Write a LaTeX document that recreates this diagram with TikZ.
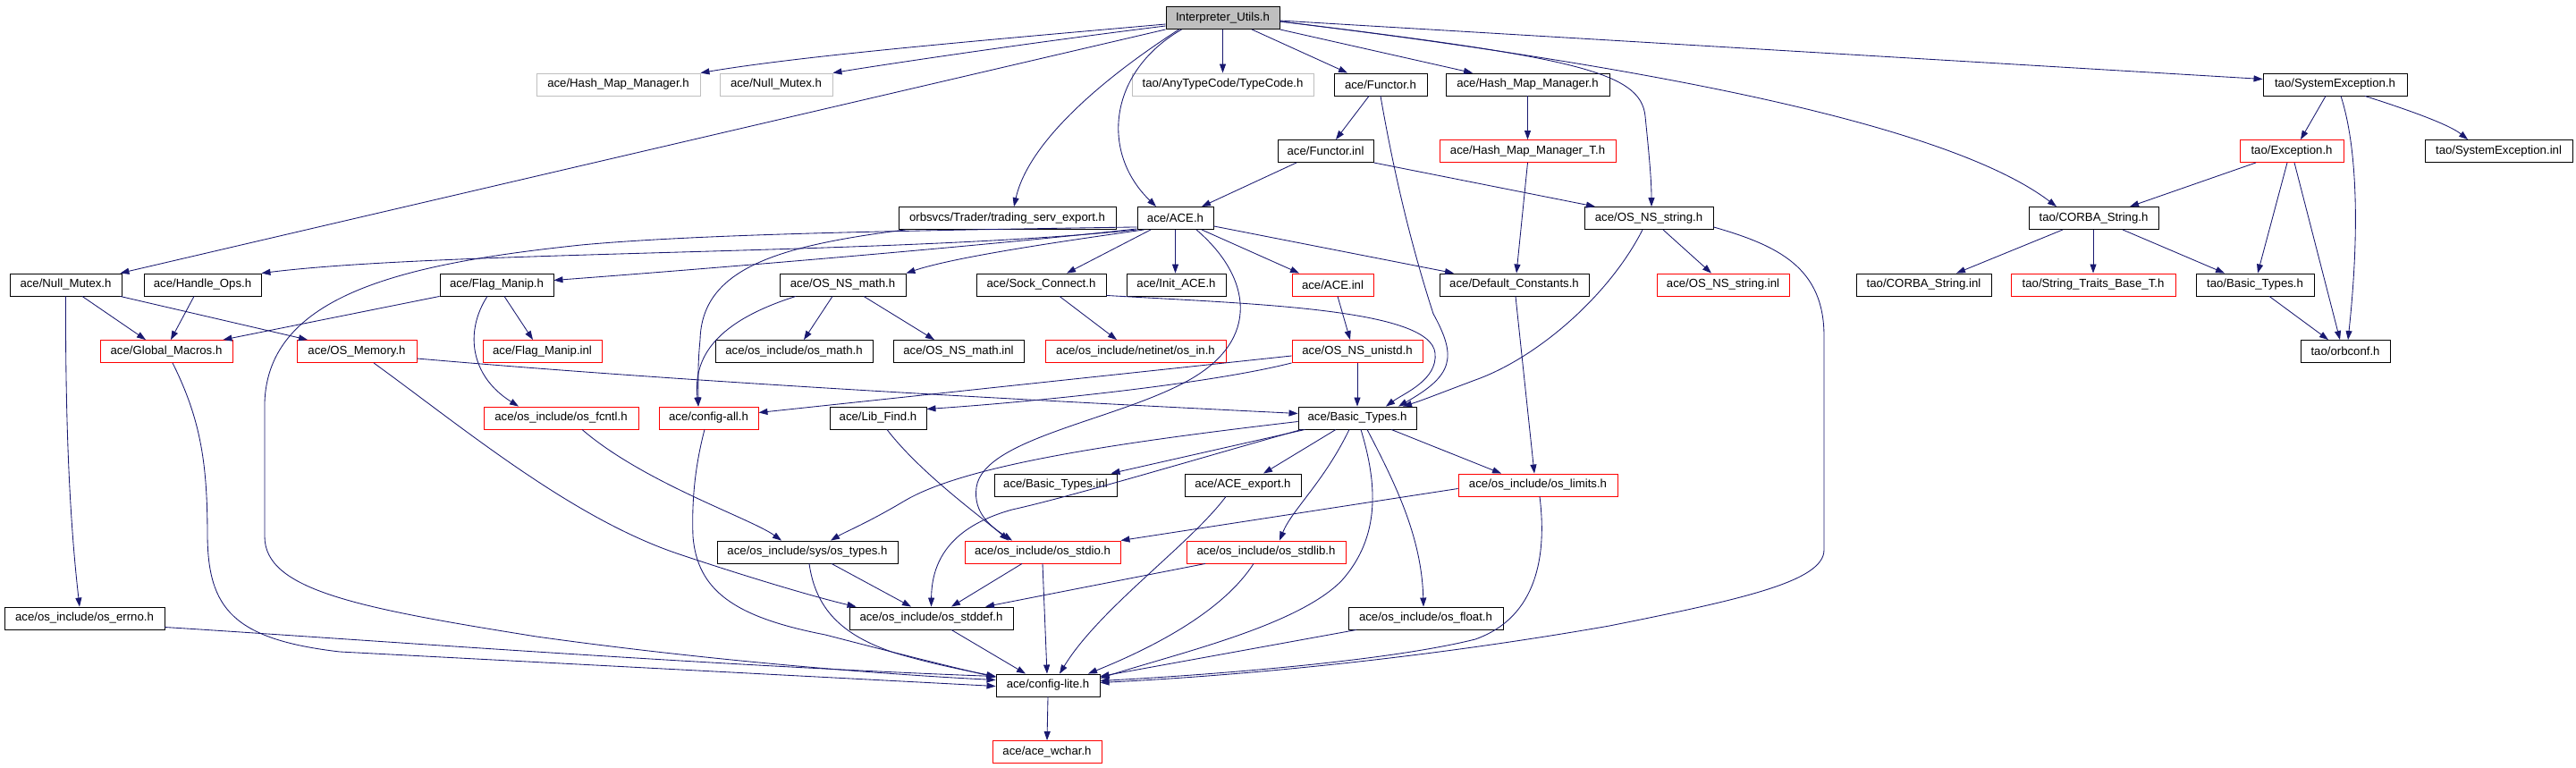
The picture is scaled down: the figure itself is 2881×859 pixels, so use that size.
\documentclass[tikz,border=0pt]{standalone}
\usepackage{fontspec}
\setmainfont{Liberation Sans}
\usetikzlibrary{arrows.meta,calc}
\definecolor{edgecol}{HTML}{191970}
\definecolor{grayfill}{HTML}{BFBFBF}
\newcommand\gnode[6]{\node[#1,minimum width={#4pt-#3pt}] (#2) at ({(#3+#4)/2},#5) {#6};}
\tikzset{
  box/.style={draw=black, line width=0.9pt, rectangle, minimum height=25pt, inner sep=0pt,
    font=\fontsize{13.2}{15}\selectfont, text=black},
  gbox/.style={box, draw=grayfill},
  rbox/.style={box, draw=red},
  root/.style={box, fill=grayfill},
  dep/.style={draw=edgecol, line width=0.85pt, -{Triangle[length=10pt,width=7pt]}}
}
\begin{document}
\begin{tikzpicture}[x=1pt,y=-1pt]
\fill[white] (0,0) rectangle (2881,859);
\useasboundingbox (0,0) rectangle (2881,859);
% row 0
\gnode{root}{iu}{1304}{1431}{20}{Interpreter\_Utils.h}
% row 1
\gnode{gbox}{hmmg}{600}{783}{94.5}{ace/Hash\_Map\_Manager.h}
\gnode{gbox}{nmg}{805}{931}{94.5}{ace/Null\_Mutex.h}
\gnode{gbox}{tc}{1266}{1469}{94.5}{tao/AnyTypeCode/TypeCode.h}
\gnode{box}{fh}{1492}{1596}{94.5}{ace/Functor.h}
\gnode{box}{hmm}{1617}{1800}{94.5}{ace/Hash\_Map\_Manager.h}
\gnode{box}{se}{2531}{2692}{94.5}{tao/SystemException.h}
% row 2
\gnode{box}{finl}{1429}{1536}{169}{ace/Functor.inl}
\gnode{rbox}{hmmt}{1610}{1807}{169}{ace/Hash\_Map\_Manager\_T.h}
\gnode{rbox}{exc}{2505}{2621}{169}{tao/Exception.h}
\gnode{box}{seinl}{2712}{2877}{169}{tao/SystemException.inl}
% row 3
\gnode{box}{tse}{1005}{1248}{244}{orbsvcs/Trader/trading\_serv\_export.h}
\gnode{box}{ace}{1272}{1357}{244}{ace/ACE.h}
\gnode{box}{nss}{1772}{1916}{244}{ace/OS\_NS\_string.h}
\gnode{box}{cs}{2269}{2414}{244}{tao/CORBA\_String.h}
% row 4
\gnode{box}{nm}{11}{136}{318.5}{ace/Null\_Mutex.h}
\gnode{box}{ho}{161}{292}{318.5}{ace/Handle\_Ops.h}
\gnode{box}{fm}{492}{619}{318.5}{ace/Flag\_Manip.h}
\gnode{box}{nsm}{872}{1013}{318.5}{ace/OS\_NS\_math.h}
\gnode{box}{sc}{1092}{1237}{318.5}{ace/Sock\_Connect.h}
\gnode{box}{ia}{1260}{1371}{318.5}{ace/Init\_ACE.h}
\gnode{rbox}{aceinl}{1445}{1536}{318.5}{ace/ACE.inl}
\gnode{box}{dc}{1610}{1777}{318.5}{ace/Default\_Constants.h}
\gnode{rbox}{nssinl}{1853}{2001}{318.5}{ace/OS\_NS\_string.inl}
\gnode{box}{csinl}{2076}{2227}{318.5}{tao/CORBA\_String.inl}
\gnode{rbox}{stb}{2249}{2433}{318.5}{tao/String\_Traits\_Base\_T.h}
\gnode{box}{tbt}{2456}{2588}{318.5}{tao/Basic\_Types.h}
% row 5
\gnode{rbox}{gm}{112}{260}{393}{ace/Global\_Macros.h}
\gnode{rbox}{om}{332}{466}{393}{ace/OS\_Memory.h}
\gnode{rbox}{fminl}{540}{673}{393}{ace/Flag\_Manip.inl}
\gnode{box}{osm}{800}{976}{393}{ace/os\_include/os\_math.h}
\gnode{box}{nsminl}{999}{1145}{393}{ace/OS\_NS\_math.inl}
\gnode{rbox}{osin}{1169}{1371}{393}{ace/os\_include/netinet/os\_in.h}
\gnode{rbox}{nsu}{1445}{1591}{393}{ace/OS\_NS\_unistd.h}
\gnode{box}{orb}{2573}{2673}{393}{tao/orbconf.h}
% row 6
\gnode{rbox}{fcntl}{541}{714}{467.5}{ace/os\_include/os\_fcntl.h}
\gnode{rbox}{ca}{737}{848}{467.5}{ace/config-all.h}
\gnode{box}{lf}{928}{1036}{467.5}{ace/Lib\_Find.h}
\gnode{box}{bt}{1452}{1584}{467.5}{ace/Basic\_Types.h}
% row 7
\gnode{box}{btinl}{1112}{1249}{542.5}{ace/Basic\_Types.inl}
\gnode{box}{ae}{1325}{1455}{542.5}{ace/ACE\_export.h}
\gnode{rbox}{lim}{1631}{1809}{542.5}{ace/os\_include/os\_limits.h}
% row 8
\gnode{box}{ost}{802}{1004}{617.5}{ace/os\_include/sys/os\_types.h}
\gnode{rbox}{stdio}{1079}{1253}{617.5}{ace/os\_include/os\_stdio.h}
\gnode{rbox}{stdlib}{1327}{1505}{617.5}{ace/os\_include/os\_stdlib.h}
% row 9
\gnode{box}{errno}{5}{184}{691.5}{ace/os\_include/os\_errno.h}
\gnode{box}{stddef}{950}{1133}{691.5}{ace/os\_include/os\_stddef.h}
\gnode{box}{flt}{1508}{1681}{691.5}{ace/os\_include/os\_float.h}
% row 10, 11
\gnode{box}{cl}{1114}{1230}{766.5}{ace/config-lite.h}
\gnode{rbox}{wc}{1110}{1232}{841}{ace/ace\_wchar.h}

% ---- edges from Interpreter_Utils.h
\draw[dep] ($(iu.west)+(0,7)$) .. controls (1100,45) and (900,62) .. (hmmg.north east);
\draw[dep] ($(iu.west)+(0,9)$) .. controls (1150,48) and (990,72) .. (nmg.north east);
\draw[dep] (iu.south west) -- ($(nm.north east)+(-2,0)$);
\draw[dep] ($(iu.south west)+(15,0)$) .. controls (1230,90) and (1150,160) .. ($(tse.north)+(7.5,0)$);
\draw[dep] ($(iu.south west)+(18,0)$) .. controls (1240,80) and (1230,170) .. ($(ace.north)+(-21.5,0)$);
\draw[dep] (iu.south) -- (tc.north);
\draw[dep] ($(iu.south)+(32.5,0)$) -- ($(fh.north)+(-37,0)$);
\draw[dep] (iu.south east) -- ($(hmm.north)+(-61.5,0)$);
\draw[dep] ($(iu.east)+(0,4)$) .. controls (1760,64) and (1835,80) .. (1840,130) .. controls (1844,170) and (1847,200) .. ($(nss.north)+(3,0)$);
\draw[dep] ($(iu.east)+(0,4)$) .. controls (1850,75) and (2180,140) .. ($(cs.north)+(-41.5,0)$);
\draw[dep] ($(iu.east)+(0,3)$) -- ($(se.west)+(0,-6)$);

% ---- Functor / Hash map
\draw[dep] ($(fh.south)+(-13,0)$) -- ($(finl.north)+(11.5,0)$);
\draw[dep] (fh.south) .. controls (1560,200) and (1580,280) .. (1603,351) .. controls (1630,400) and (1625,420) .. ($(bt.north)+(46,0)$);
\draw[dep] (hmm.south) -- (hmmt.north);
\draw[dep] (hmmt.south) -- ($(dc.north)+(2.5,0)$);
\draw[dep] ($(finl.south)+(-32.5,0)$) -- ($(ace.north)+(29.5,0)$);
\draw[dep] (finl.south east) -- ($(nss.north)+(-60,0)$);

% ---- tao side
\draw[dep] ($(se.south)+(-10.5,0)$) -- ($(exc.north)+(10,0)$);
\draw[dep] ($(se.south)+(6.5,0)$) .. controls (2635,160) and (2640,250) .. ($(orb.north)+(3,0)$);
\draw[dep] ($(se.south)+(33.5,0)$) .. controls (2700,125) and (2740,140) .. ($(seinl.north)+(-34.5,0)$);
\draw[dep] ($(exc.south)+(-40,0)$) -- ($(cs.north)+(40.5,0)$);
\draw[dep] ($(exc.south)+(-5,0)$) -- ($(tbt.north)+(3,0)$);
\draw[dep] ($(exc.south)+(3,0)$) -- ($(orb.north)+(-6,0)$);
\draw[dep] ($(cs.south)+(-34.5,0)$) -- ($(csinl.north)+(36.5,0)$);
\draw[dep] ($(cs.south)+(-0.5,0)$) -- (stb.north);
\draw[dep] ($(cs.south)+(32.5,0)$) -- ($(tbt.north)+(-34,0)$);
\draw[dep] ($(tbt.south)+(16,0)$) -- ($(orb.north)+(-19,0)$);

% ---- trading_serv_export
\draw[dep] ($(tse.south west)+(8,0)$) .. controls (870,275) and (785,300) .. (783,380) .. controls (780,410) and (781,430) .. ($(ca.north)+(-11.5,0)$);

% ---- ACE.h
\draw[dep] (ace.south west) .. controls (1000,285) and (500,280) .. (ho.north east);
\draw[dep] ($(ace.south west)+(0,-1)$) .. controls (1100,275) and (800,300) .. ($(fm.east)+(0,-5)$);
\draw[dep] ($(ace.south west)+(0,-3)$) .. controls (1000,258) and (780,262) .. (650,274) .. controls (450,295) and (300,330) .. (296,450) -- (296,600) .. controls (296,660) and (400,680) .. (600,712) .. controls (800,740) and (1000,755) .. ($(cl.west)+(0,-6)$);
\draw[dep] ($(ace.south west)+(8,0)$) .. controls (1150,275) and (1060,290) .. (nsm.north east);
\draw[dep] ($(ace.south)+(-27.5,0)$) -- ($(sc.north)+(28.5,0)$);
\draw[dep] (ace.south) -- ($(ia.north)+(-1,0)$);
\draw[dep] ($(ace.south)+(29.5,0)$) -- ($(aceinl.north)+(-37.5,0)$);
\draw[dep] ($(ace.south east)+(0,-4)$) -- ($(dc.north)+(-67.5,0)$);
\draw[dep] ($(ace.south)+(23.5,0)$) .. controls (1400,310) and (1410,380) .. (1330,425) .. controls (1250,470) and (1100,490) .. (1092,545) .. controls (1088,575) and (1110,590) .. ($(stdio.north)+(-34,0)$);

% ---- row 4 sources
\draw[dep] ($(sc.south)+(20.5,0)$) -- ($(osin.north)+(-21,0)$);
\draw[dep] ($(sc.south east)+(0,-1)$) .. controls (1400,340) and (1600,345) .. (1605,395) .. controls (1608,425) and (1570,440) .. ($(bt.north)+(32,0)$);
\draw[dep] ($(aceinl.south)+(5.5,0)$) -- ($(nsu.north)+(-8,0)$);
\draw[dep] (nsu.south) -- (bt.north);
\draw[dep] ($(nsu.west)+(0,5)$) -- ($(ca.east)+(0,-6)$);
\draw[dep] (nsu.south west) .. controls (1350,430) and (1150,450) .. ($(lf.east)+(0,-10)$);
\draw[dep] ($(nss.south)+(16,0)$) -- ($(nssinl.north)+(-13,0)$);
\draw[dep] ($(nss.south)+(-7,0)$) .. controls (1800,330) and (1720,400) .. (1650,425) .. controls (1610,440) and (1590,448) .. ($(bt.north)+(51,0)$);
\draw[dep] ($(nss.south east)+(0,-3)$) .. controls (1990,275) and (2040,300) .. (2040,376) -- (2040,615) .. controls (2040,650) and (1950,670) .. (1800,700) .. controls (1600,735) and (1400,755) .. ($(cl.east)+(0,-3)$);
\draw[dep] ($(dc.south)+(1.5,0)$) -- ($(lim.north)+(-4,0)$);

% ---- Basic_Types.h
\draw[dep] ($(bt.south west)+(8,0)$) -- ($(btinl.north)+(62,0)$);
\draw[dep] ($(bt.south)+(-24,0)$) -- ($(ae.north)+(23,0)$);
\draw[dep] ($(bt.south)+(38,0)$) -- ($(lim.north)+(-41,0)$);
\draw[dep] ($(bt.south)+(-9,0)$) .. controls (1480,540) and (1445,570) .. ($(stdlib.north)+(15,0)$);
\draw[dep] ($(bt.south)+(11,0)$) .. controls (1560,540) and (1590,600) .. ($(flt.north)+(-2.5,0)$);
\draw[dep] ($(bt.south)+(4,0)$) .. controls (1540,540) and (1545,600) .. (1500,650) .. controls (1450,700) and (1320,730) .. ($(cl.east)+(0,-8)$);
\draw[dep] ($(bt.west)+(0,4)$) .. controls (1250,495) and (1080,520) .. (1012,560) .. controls (970,585) and (945,595) .. ($(ost.north)+(26,0)$);
\draw[dep] ($(bt.south west)+(4,0)$) .. controls (1350,510) and (1200,555) .. (1132,570) .. controls (1060,590) and (1042,630) .. (stddef.north);

% ---- os_limits, ACE_export
\draw[dep] ($(lim.west)+(0,4)$) -- (stdio.north east);
\draw[dep] ($(lim.south)+(2,0)$) .. controls (1730,620) and (1720,690) .. (1650,715) .. controls (1550,740) and (1350,755) .. ($(cl.east)+(0,-5)$);
\draw[dep] ($(ae.south)+(-19,0)$) .. controls (1330,610) and (1230,680) .. ($(cl.north)+(13,0)$);

% ---- left part
\draw[dep] ($(om.east)+(0,8)$) .. controls (800,430) and (1200,450) .. ($(bt.west)+(0,-5)$);
\draw[dep] ($(om.south)+(19,0)$) .. controls (520,480) and (640,580) .. (760,620) .. controls (850,650) and (920,670) .. ($(stddef.north west)+(8,0)$);
\draw[dep] ($(nm.south)+(18.5,0)$) -- ($(gm.north)+(-23,0)$);
\draw[dep] ($(nm.south east)+(-2,0)$) -- ($(om.north)+(-55,0)$);
\draw[dep] (nm.south) .. controls (73,500) and (80,600) .. ($(errno.north)+(-5.5,0)$);
\draw[dep] ($(ho.south)+(-9.5,0)$) -- ($(gm.north)+(5,0)$);
\draw[dep] (fm.south west) -- ($(gm.north east)+(-11,0)$);
\draw[dep] ($(fm.south)+(8.5,0)$) -- ($(fminl.north)+(-10.5,0)$);
\draw[dep] ($(fm.south)+(-10.5,0)$) .. controls (520,370) and (525,420) .. ($(fcntl.north)+(-47.5,0)$);
\draw[dep] ($(gm.south)+(7,0)$) .. controls (225,470) and (232,520) .. (232,600) .. controls (233,680) and (260,715) .. (380,729) -- ($(cl.west)+(0,1)$);
\draw[dep] ($(errno.east)+(0,10)$) .. controls (400,715) and (800,745) .. ($(cl.west)+(0,-10)$);
\draw[dep] ($(nsm.south)+(-11.5,0)$) -- ($(osm.north)+(11,0)$);
\draw[dep] ($(nsm.south)+(23.5,0)$) -- ($(nsminl.north)+(-27,0)$);
\draw[dep] ($(nsm.south)+(-52.5,0)$) .. controls (800,360) and (775,400) .. ($(ca.north)+(-11.5,0)$);
\draw[dep] ($(fcntl.south)+(23.5,0)$) .. controls (720,540) and (840,580) .. ($(ost.north)+(-29,0)$);
\draw[dep] ($(ca.south)+(-4.5,0)$) .. controls (775,530) and (774,570) .. (775,600) .. controls (780,660) and (820,690) .. (923,710) .. controls (1000,730) and (1060,745) .. ($(cl.west)+(0,-9)$);
\draw[dep] ($(lf.south)+(10,0)$) .. controls (1030,530) and (1100,580) .. ($(stdio.north)+(-38,0)$);

% ---- lower rows
\draw[dep] ($(ost.south)+(27,0)$) -- ($(stddef.north)+(-22.5,0)$);
\draw[dep] ($(ost.south)+(2,0)$) .. controls (912,680) and (940,710) .. (1000,730) .. controls (1040,742) and (1080,750) .. ($(cl.west)+(0,-10)$);
\draw[dep] ($(stdio.south)+(-23,0)$) -- ($(stddef.north)+(22.5,0)$);
\draw[dep] (stdio.south) -- ($(cl.north)+(-1,0)$);
\draw[dep] ($(stdlib.south)+(-68,0)$) -- ($(stddef.north)+(60.5,0)$);
\draw[dep] ($(stdlib.south)+(-14,0)$) .. controls (1370,680) and (1300,720) .. ($(cl.north)+(45,0)$);
\draw[dep] ($(stddef.south)+(22.5,0)$) -- ($(cl.north)+(-25,0)$);
\draw[dep] ($(flt.south)+(-77.5,0)$) -- ($(cl.north east)+(0,3)$);
\draw[dep] (cl.south) -- (wc.north);
\end{tikzpicture}
\end{document}
